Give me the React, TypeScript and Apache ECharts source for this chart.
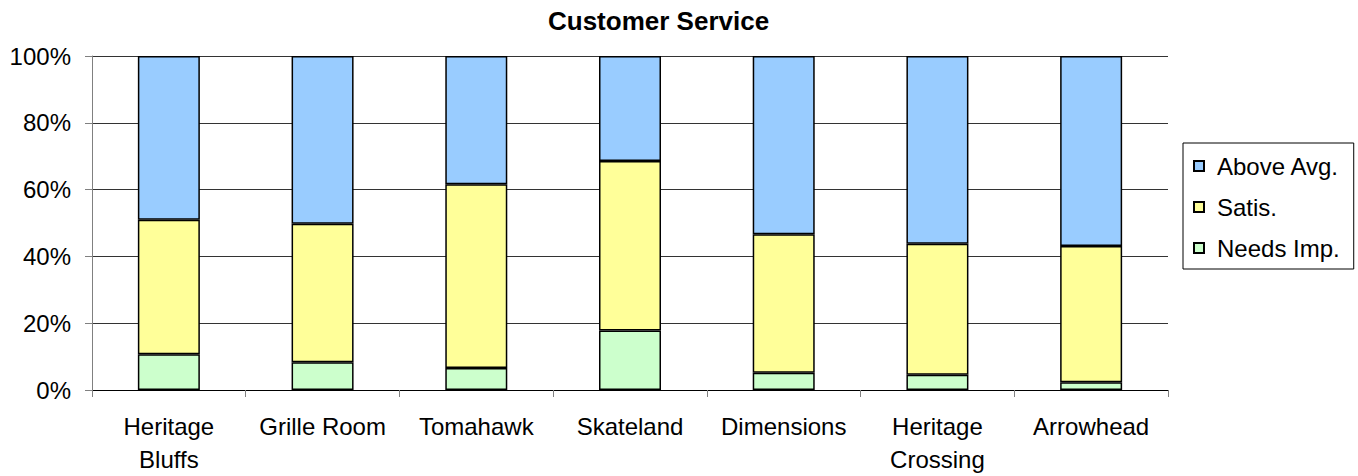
import React, { useEffect, useRef } from "react";
import * as echarts from "echarts";

const categories = [
  "Heritage\nBluffs",
  "Grille Room",
  "Tomahawk",
  "Skateland",
  "Dimensions",
  "Heritage\nCrossing",
  "Arrowhead",
];
const needsImp = [10.7, 8.3, 6.6, 17.8, 5.2, 4.6, 2.3];
const satis = [40.3, 41.5, 55.0, 50.8, 41.4, 39.2, 40.8];
const aboveAvg = [49.0, 50.2, 38.4, 31.4, 53.4, 56.2, 56.9];
const legendOrder = ["Above Avg.", "Satis.", "Needs Imp."];

const FONT = "'Liberation Sans', Arial, sans-serif";

export default function App() {
  const ref = useRef<HTMLDivElement>(null);
  useEffect(() => {
    if (!ref.current) return;
    const chart = echarts.init(ref.current, undefined, { renderer: "svg" });
    const barStyle = (color: string) => ({
      color,
      borderColor: "#000",
      borderWidth: 1.5,
    });
    chart.setOption({
      animation: false,
      backgroundColor: "#fff",
      textStyle: { fontFamily: FONT },
      title: {
        text: "Customer Service",
        left: 548,
        top: 8,
        padding: 0,
        textStyle: { fontFamily: FONT, fontSize: 26, fontWeight: "bold", color: "#000" },
      },
      legend: {
        orient: "vertical",
        left: 1183,
        top: 143,
        width: 170,
        data: legendOrder,
        itemWidth: 10,
        itemHeight: 10,
        itemGap: 17,
        icon: "rect",
        padding: [11, 14, 9, 10],
        borderColor: "#000",
        borderWidth: 1,
        backgroundColor: "#fff",
        textStyle: { fontFamily: FONT, fontSize: 24, color: "#000", padding: [0, 0, 0, 8] },
      },
      grid: { left: 92, right: 190, top: 56, bottom: 83 },
      xAxis: {
        type: "category",
        data: categories,
        axisLine: { lineStyle: { color: "#000", width: 1 } },
        axisTick: { show: true, length: 7, lineStyle: { color: "#808080" } },
        axisLabel: {
          fontFamily: FONT,
          fontSize: 24,
          color: "#000",
          margin: 20,
          lineHeight: 33,
          interval: 0,
        },
      },
      yAxis: {
        type: "value",
        min: 0,
        max: 100,
        interval: 20,
        axisLine: { show: true, lineStyle: { color: "#808080", width: 1 } },
        axisTick: { show: true, length: 7, lineStyle: { color: "#808080" } },
        axisLabel: {
          fontFamily: FONT,
          fontSize: 24,
          color: "#000",
          margin: 21,
          formatter: "{value}%",
        },
        splitLine: { show: true, lineStyle: { color: "#333", width: 1 } },
      },
      series: [
        { name: "Needs Imp.", type: "bar", stack: "a", data: needsImp, barWidth: 62, itemStyle: barStyle("#CCFFCC") },
        { name: "Satis.", type: "bar", stack: "a", data: satis, barWidth: 62, itemStyle: barStyle("#FFFF99") },
        { name: "Above Avg.", type: "bar", stack: "a", data: aboveAvg, barWidth: 62, itemStyle: barStyle("#99CCFF") },
      ],
    });
    return () => chart.dispose();
  }, []);
  return (
    <div
      ref={ref}
      style={{ position: "absolute", left: 0, top: 0, width: 1358, height: 476 }}
    />
  );
}
